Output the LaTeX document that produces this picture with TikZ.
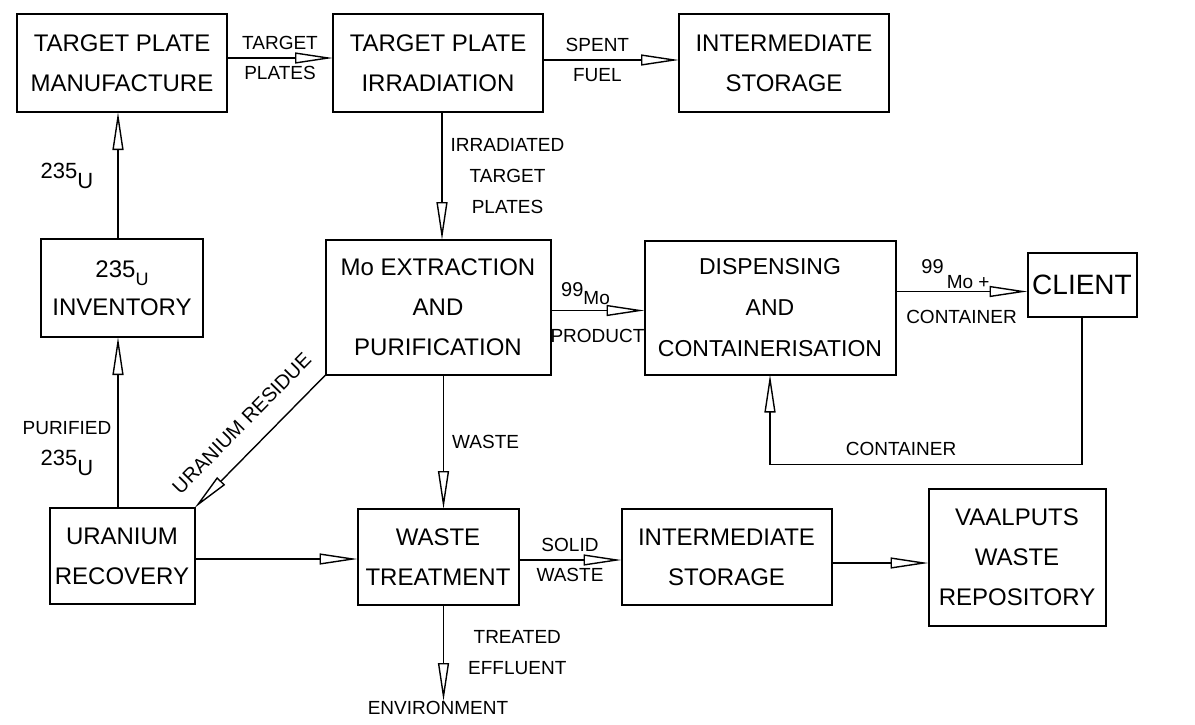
\documentclass[tikz,border=0pt]{standalone}
\usepackage{fontspec}
\setmainfont{Liberation Sans}
\usetikzlibrary{positioning,arrows.meta,calc}
\newcommand{\nuc}[3]{#1\raisebox{-#3}{#2}}

\begin{document}
\begin{tikzpicture}[x=1pt, y=1pt, >={Triangle[open, length=19pt, width=5.5pt]},
    box/.style={draw, line width=1pt, outer sep=0pt, minimum width=105pt, minimum height=49pt, inner sep=1pt, align=center, font=\fontsize{12}{20}\selectfont},
    flow/.style={->, line width=0.7pt},
    lbl/.style={font=\fontsize{9.5}{15.5}\selectfont, align=center, inner sep=4pt}]
    \useasboundingbox (0,0) rectangle (597.5,-362);
    % top row
    \node[box] (tpm) at (61,-31.5) {TARGET PLATE\\ MANUFACTURE};
    \node[box, right=53pt of tpm] (tpi) {TARGET PLATE\\ IRRADIATION};
    \node[box, right=68pt of tpi] (ist) {INTERMEDIATE\\ STORAGE};
    % middle row
    \node[box, minimum width=81pt, below=63.5pt of tpm, font=\fontsize{12}{19}\selectfont] (inv) {\nuc{235}{\fontsize{9}{9}\selectfont U}{4pt}\\ INVENTORY};
    \node[box, minimum width=112.5pt, minimum height=67.5pt, below=64pt of tpi] (mo) {Mo EXTRACTION\\ AND\\ PURIFICATION};
    \node[box, minimum width=125.5pt, minimum height=67pt, right=47pt of mo, font=\fontsize{11.5}{20.5}\selectfont] (disp) {DISPENSING\\ AND\\ CONTAINERISATION};
    \node[box, minimum width=54.5pt, minimum height=32pt, right=66pt of disp, yshift=11.5pt, font=\fontsize{14}{16}\selectfont] (client) {CLIENT};
    % bottom row
    \node[box, minimum width=72.5pt, minimum height=48pt, below=85.5pt of inv] (ur) {URANIUM\\ RECOVERY};
    \node[box, minimum width=80.5pt, minimum height=48pt, below=67pt of mo] (wt) {WASTE\\ TREATMENT};
    \node[box, minimum height=48pt, right=51.5pt of wt] (isb) {INTERMEDIATE\\ STORAGE};
    \node[box, minimum width=88.5pt, minimum height=68.5pt, right=48.5pt of isb] (vaal) {VAALPUTS\\ WASTE\\ REPOSITORY};
    \node[lbl, inner sep=0pt, below=48pt of wt] (env) {ENVIRONMENT};
    \coordinate[below=74pt of client.south] (ret);

    \draw[flow] ([yshift=2.5pt]tpm.east) -- node[lbl, above]{TARGET} node[lbl, below]{PLATES} ([yshift=2.5pt]tpm.east -| tpi.west);
    \draw[flow] ([yshift=1.5pt]tpi.east) -- node[lbl, above, pos=0.4]{SPENT} node[lbl, below, pos=0.4]{FUEL} ([yshift=1.5pt]tpi.east -| ist.west);
    \draw[flow] ([xshift=2pt]tpi.south) -- node[lbl, right]{IRRADIATED\\ TARGET\\ PLATES} ([xshift=2pt]tpi.south |- mo.north);
    \draw[flow] ([yshift=-1.5pt]mo.east) -- node[lbl, above, inner sep=2.5pt, xshift=-6pt]{{\fontsize{10}{12}\selectfont 99}\raisebox{-4pt}{Mo}} node[lbl, below=5pt]{PRODUCT} ([yshift=-1.5pt]mo.east -| disp.west);
    \draw[flow] ([yshift=-3.5pt]client.west -| disp.east) -- node[lbl, above, inner sep=1pt, xshift=-3pt]{{\fontsize{10}{12}\selectfont 99}\,\raisebox{-7.5pt}{Mo +}} node[lbl, below=5pt]{CONTAINER} ([yshift=-3.5pt]client.west);
    \draw[flow] (client.south) -- (ret) -| node[lbl, above, pos=0.29]{CONTAINER} (disp.south);
    \draw[flow] ([xshift=-2pt]inv.north) -- node[lbl, left=8pt]{\fontsize{11}{13}\selectfont\nuc{235}{U}{5pt}} ([xshift=-2pt]inv.north |- tpm.south);
    \draw[flow] ([xshift=-2pt]inv.south |- ur.north) -- node[lbl, left, inner sep=3pt, pos=0.35]{PURIFIED\\ {\fontsize{11}{13}\selectfont\nuc{235}{U}{5pt}}} ([xshift=-2pt]inv.south);
    \draw[flow, <-] (ur.north east) -- node[lbl, sloped, above=5pt, font=\fontsize{10}{12}\selectfont]{URANIUM RESIDUE} (mo.south west);
    \draw[flow] ([xshift=2.75pt]mo.south) -- node[lbl, right]{WASTE} ([xshift=2.75pt]mo.south |- wt.north);
    \draw[flow] ([yshift=-1.5pt]ur.east) -- ([yshift=-1.5pt]ur.east -| wt.west);
    \draw[flow] ([xshift=2.75pt]wt.south) -- node[lbl, right=8pt]{TREATED\\ EFFLUENT} ([xshift=2.75pt]wt.south |- env.north);
    \draw[flow] ([yshift=-1.5pt]wt.east) -- node[lbl, above]{SOLID} node[lbl, below]{WASTE} ([yshift=-1.5pt]wt.east -| isb.west);
    \draw[flow] ([yshift=-3pt]isb.east) -- ([yshift=-3pt]isb.east -| vaal.west);
  \end{tikzpicture}
\end{document}
